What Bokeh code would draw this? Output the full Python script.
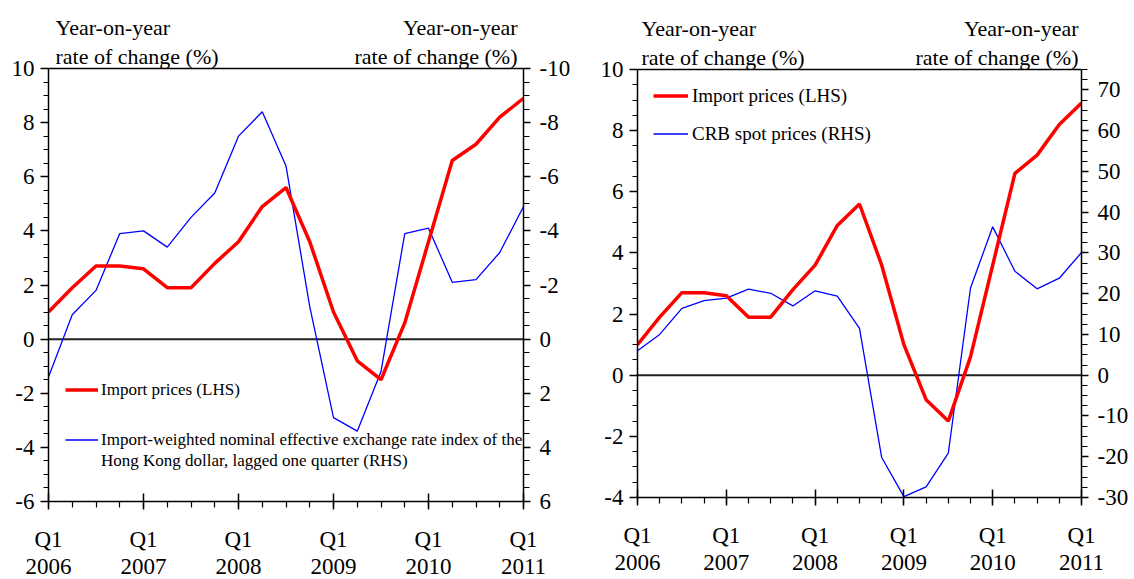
import numpy as np
from bokeh.plotting import figure
from bokeh.models import Range1d, LinearAxis, FixedTicker, Span, Label, Legend, LegendItem
from bokeh.layouts import row
from bokeh.embed import file_html
from bokeh.resources import INLINE

# ---------------- data ----------------
quarters = ["2006Q1", "2006Q2", "2006Q3", "2006Q4",
            "2007Q1", "2007Q2", "2007Q3", "2007Q4",
            "2008Q1", "2008Q2", "2008Q3", "2008Q4",
            "2009Q1", "2009Q2", "2009Q3", "2009Q4",
            "2010Q1", "2010Q2", "2010Q3", "2010Q4",
            "2011Q1"]
import_prices = [1.0, 1.9, 2.7, 2.7, 2.6, 1.9, 1.9, 2.8, 3.6, 4.9, 5.6,
                 3.6, 1.0, -0.8, -1.5, 0.6, 3.6, 6.6, 7.2, 8.2, 8.9]
neer_lagged = [1.4, -0.9, -1.8, -3.9, -4.0, -3.4, -4.5, -5.4, -7.5, -8.4, -6.4,
               -1.2, 2.9, 3.4, 1.2, -3.9, -4.1, -2.1, -2.2, -3.2, -4.9]
crb_spot = [6.0, 10.0, 16.4, 18.3, 18.9, 21.1, 20.1, 17.0, 20.7, 19.4, 11.5,
            -20.2, -29.8, -27.4, -19.1, 21.4, 36.4, 25.5, 21.2, 23.8, 30.1]

left_lhs_ticks = [-6, -4, -2, 0, 2, 4, 6, 8, 10]
left_rhs_ticks = [-10, -8, -6, -4, -2, 0, 2, 4, 6]
right_lhs_ticks = [-4, -2, 0, 2, 4, 6, 8, 10]
right_rhs_ticks = [-30, -20, -10, 0, 10, 20, 30, 40, 50, 60, 70]

label_yoy = "Year-on-year"
label_rate = "rate of change (%)"
legend_import = "Import prices (LHS)"
legend_neer_1 = "Import-weighted nominal effective exchange rate index of the"
legend_neer_2 = "Hong Kong dollar, lagged one quarter (RHS)"
legend_crb = "CRB spot prices (RHS)"

FONT = "Liberation Serif"
RED = "#FF0000"
BLUE = "#0000FF"
TICK_SIZE = "23px"

x = list(range(len(quarters)))
major_x = [i for i, q in enumerate(quarters) if q.endswith("Q1")]
x_overrides = {i: "Q1\n" + quarters[i][:4] for i in major_x}


def plain_labels(ticks):
    # hyphen-minus like the original rather than a unicode minus
    return {t: str(t) for t in ticks}


def style_axis(ax):
    ax.axis_line_color = "black"
    ax.axis_line_width = 1.5
    ax.major_tick_line_color = "black"
    ax.major_tick_line_width = 1.5
    ax.minor_tick_line_color = "black"
    ax.minor_tick_line_width = 1.2
    ax.major_label_text_font = FONT
    ax.major_label_text_font_size = TICK_SIZE
    ax.major_label_text_color = "black"


def base_fig(fw, fh, bl, br, bt, bb, ymin, ymax, frame_top_gap, yticks, yminor):
    # frame extends a little above the top value so the header texts sit
    # inside it; axes are bounded to the real value range
    ppu = (fh - frame_top_gap) / (ymax - ymin)
    ytop = ymax + frame_top_gap / ppu
    p = figure(frame_width=fw, frame_height=fh,
               min_border_left=bl, min_border_right=br,
               min_border_top=bt, min_border_bottom=bb,
               x_range=Range1d(0, len(quarters) - 1),
               y_range=Range1d(ymin, ytop),
               output_backend="svg", toolbar_location=None)
    p.xgrid.visible = False
    p.ygrid.visible = False
    p.outline_line_color = None
    p.background_fill_color = "white"
    p.border_fill_color = "white"

    xa = p.xaxis[0]
    xa.ticker = FixedTicker(ticks=major_x, minor_ticks=x)
    xa.major_label_overrides = x_overrides
    style_axis(xa)
    xa.major_tick_in = 8
    xa.major_tick_out = 8
    xa.minor_tick_in = 0
    xa.minor_tick_out = 6
    xa.major_label_standoff = 17
    xa.major_label_text_line_height = 1.1

    ya = p.yaxis[0]
    ya.ticker = FixedTicker(ticks=yticks, minor_ticks=yminor)
    ya.major_label_overrides = plain_labels(yticks)
    ya.bounds = (ymin, ymax)
    style_axis(ya)
    ya.major_tick_in = 0
    ya.major_tick_out = 8
    ya.minor_tick_in = 0
    ya.minor_tick_out = 5
    ya.major_label_standoff = 6

    p.add_layout(Span(location=0, dimension="width", line_color="#222222",
                      line_width=2, level="underlay"))
    p.add_layout(Span(location=ymax, dimension="width", line_color="black",
                      line_width=1.5))
    return p, ytop


def add_rhs(p, name, start, end, ticks, minor, bounds):
    p.extra_y_ranges = {name: Range1d(start, end)}
    ax = LinearAxis(y_range_name=name,
                    ticker=FixedTicker(ticks=ticks, minor_ticks=minor))
    ax.major_label_overrides = plain_labels(ticks)
    ax.bounds = bounds
    style_axis(ax)
    ax.major_tick_in = 0
    ax.major_tick_out = 7
    ax.minor_tick_in = 0
    ax.minor_tick_out = 6
    ax.major_label_standoff = 9
    p.add_layout(ax, "right")


def add_header(p, y_yoy, y_rate, xl, xr):
    for txt, yy in ((label_yoy, y_yoy), (label_rate, y_rate)):
        for xx, al in ((xl, "left"), (xr, "right")):
            p.add_layout(Label(x=xx, y=yy, x_units="screen", y_units="screen",
                               text=txt, text_font=FONT, text_font_size="22px",
                               text_align=al, text_baseline="middle",
                               text_color="black"))


def make_legend(items, x0, y0, size, gw, gh, spacing, standoff):
    return Legend(items=items, location=(x0, y0), orientation="vertical",
                  label_text_font=FONT, label_text_font_size=size,
                  label_text_color="black", glyph_width=gw, glyph_height=gh,
                  label_height=gh, spacing=spacing, label_standoff=standoff,
                  padding=0, margin=0, border_line_alpha=0,
                  background_fill_alpha=0)


# ---------------- left panel ----------------
# frame: x 48..523, y 4..501 (value 10 at 68)
FW1, FH1 = 475, 497
p1, top1 = base_fig(FW1, FH1, 48, 57, 4, 74, -6, 10, 64,
                    left_lhs_ticks, list(np.arange(-6, 10.01, 0.5)))
add_rhs(p1, "rhs", 6, -top1, left_rhs_ticks, list(np.arange(-10, 6.01, 0.5)), (-10, 6))
b1 = p1.line(x, neer_lagged, y_range_name="rhs", line_color=BLUE, line_width=1.3)
r1 = p1.line(x, import_prices, line_color=RED, line_width=3.5)
d1 = p1.line(x, neer_lagged, y_range_name="rhs", line_alpha=0, line_width=1)
add_header(p1, 474, 445, 7, 469)
p1.add_layout(make_legend([LegendItem(label=legend_import, renderers=[r1])],
                          17, 101, "17px", 33, 21, 0, 3))
p1.add_layout(make_legend([LegendItem(label=legend_neer_1, renderers=[b1]),
                           LegendItem(label=legend_neer_2, renderers=[d1])],
                          17, 30, "17px", 33, 21, 0, 3))

# ---------------- right panel ----------------
# frame: x 637..1081, y 4..497 (value 10 at 69)
FW2, FH2 = 444, 493
p2, top2 = base_fig(FW2, FH2, 57, 49, 4, 78, -4, 10, 65,
                    right_lhs_ticks, list(np.arange(-4, 10.01, 0.5)))
add_rhs(p2, "rhs", -30, top2 * 7.5, right_rhs_ticks,
        list(np.arange(-30, 75.01, 2.5)), (-30, 75))
b2 = p2.line(x, crb_spot, y_range_name="rhs", line_color=BLUE, line_width=1.3)
r2 = p2.line(x, import_prices, line_color=RED, line_width=3.5)
add_header(p2, 469, 440, 4, 441)
p2.add_layout(make_legend([LegendItem(label=legend_import, renderers=[r2]),
                           LegendItem(label=legend_crb, renderers=[b2])],
                          16, 352, "19px", 35, 23, 15, 4))

layout = row(p1, p2)
open("out.html", "w").write(file_html(layout, INLINE))
